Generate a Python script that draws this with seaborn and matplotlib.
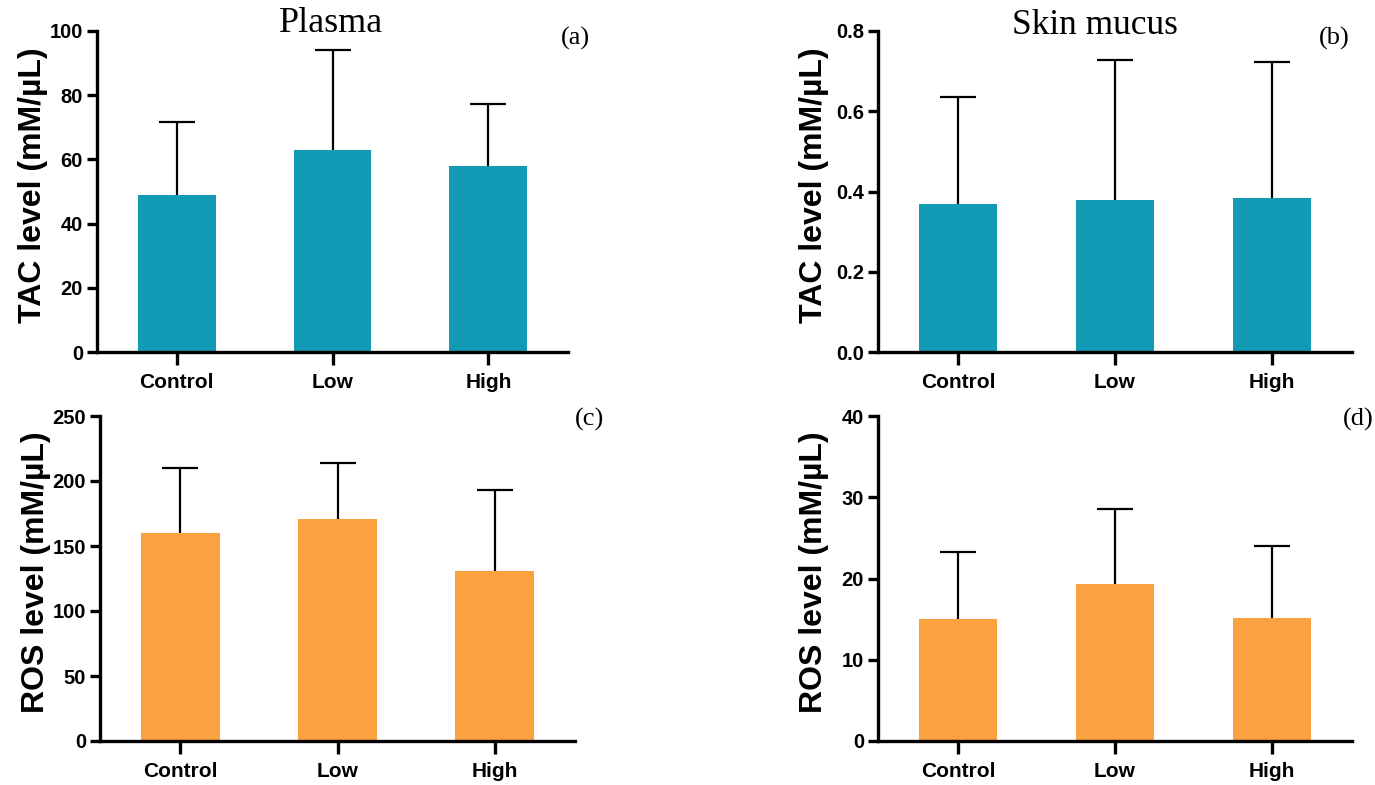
import numpy as np
import pandas as pd
import seaborn as sns
import matplotlib.pyplot as plt

# groups and values
groups = ["Control", "Low", "High"]

tac_plasma = [49.0, 63.0, 58.0]
tac_plasma_sd = [22.8, 31.0, 19.3]
tac_mucus = [0.368, 0.378, 0.385]
tac_mucus_sd = [0.268, 0.350, 0.337]
ros_plasma = [160.0, 171.0, 131.0]
ros_plasma_sd = [50.0, 43.0, 62.0]
ros_mucus = [15.0, 19.3, 15.2]
ros_mucus_sd = [8.3, 9.3, 8.8]

TEAL = "#139bb5"
ORANGE = "#fba140"

sns.set_style("ticks", {"axes.edgecolor": "black", "xtick.color": "black",
                        "ytick.color": "black", "text.color": "black",
                        "axes.labelcolor": "black"})
plt.rcParams["font.family"] = ["Liberation Sans Narrow", "Liberation Sans", "DejaVu Sans"]

fig = plt.figure(figsize=(13.75, 7.85), dpi=100)

# axes boxes in pixels: left, top, right, bottom
boxes = {
    "a": (97, 31, 568, 352),
    "b": (878, 31, 1352, 352),
    "c": (100, 416, 575, 741),
    "d": (878, 416, 1352, 741),
}
W, H = 1375, 785


def make_ax(key):
    l, t, r, b = boxes[key]
    return fig.add_axes([l / W, 1 - b / H, (r - l) / W, (b - t) / H])


def panel(ax, vals, sds, color, ylim, step, ylabel, fmt):
    df = pd.DataFrame({"group": groups, "value": vals})
    sns.barplot(data=df, x="group", y="value", color=color, width=0.5,
                saturation=1, errorbar=None, ax=ax, zorder=2)
    for p in ax.patches:
        p.set_edgecolor("none")
    x = np.arange(len(groups))
    eb = ax.errorbar(x, vals, yerr=[np.zeros(len(sds)), sds], fmt="none",
                     ecolor="black", elinewidth=1.6, capsize=13, capthick=1.6, zorder=1)
    # only the upper cap is shown
    for cap in eb[1]:
        if np.allclose(cap.get_ydata(), vals):
            cap.set_visible(False)
    ax.set_xlim(-0.51, 2.51)
    ax.set_ylim(*ylim)
    ax.set_yticks(np.arange(ylim[0], ylim[1] + step / 2, step))
    ax.yaxis.set_major_formatter(plt.FormatStrFormatter(fmt))
    ax.set_xlabel("")
    ax.set_ylabel(ylabel, fontsize=23, fontweight="bold",
                  family=["Liberation Sans", "DejaVu Sans"])
    ax.yaxis.set_label_coords(-0.103, 0.52)
    sns.despine(ax=ax)
    for s in ["left", "bottom"]:
        ax.spines[s].set_linewidth(2.4)
    ax.tick_params(axis="x", length=9, width=2.4, labelsize=15, pad=6)
    ax.tick_params(axis="y", length=7, width=2.4, labelsize=14.5, pad=3)
    for lab in ax.get_xticklabels() + ax.get_yticklabels():
        lab.set_fontweight("bold")


ax_a = make_ax("a")
panel(ax_a, tac_plasma, tac_plasma_sd, TEAL, (0, 100), 20, "TAC level (mM/µL)", "%d")
ax_b = make_ax("b")
panel(ax_b, tac_mucus, tac_mucus_sd, TEAL, (0, 0.8), 0.2, "TAC level (mM/µL)", "%.1f")
ax_c = make_ax("c")
panel(ax_c, ros_plasma, ros_plasma_sd, ORANGE, (0, 250), 50, "ROS level (mM/µL)", "%d")
ax_d = make_ax("d")
panel(ax_d, ros_mucus, ros_mucus_sd, ORANGE, (0, 40), 10, "ROS level (mM/µL)", "%d")

serif = ["Liberation Serif", "DejaVu Serif"]
fig.text(331 / W, 1 - 24 / H, "Plasma", family=serif, fontsize=26, ha="center", va="center")
fig.text(1095 / W, 1 - 26 / H, "Skin mucus", family=serif, fontsize=25.5, ha="center", va="center")
fig.text(575 / W, 1 - 38 / H, "(a)", family=serif, fontsize=19, ha="center", va="center")
fig.text(1334 / W, 1 - 38 / H, "(b)", family=serif, fontsize=19, ha="center", va="center")
fig.text(589 / W, 1 - 419 / H, "(c)", family=serif, fontsize=19, ha="center", va="center")
fig.text(1358 / W, 1 - 419 / H, "(d)", family=serif, fontsize=19, ha="center", va="center")

fig.savefig("out.png", dpi=100, facecolor="white")
